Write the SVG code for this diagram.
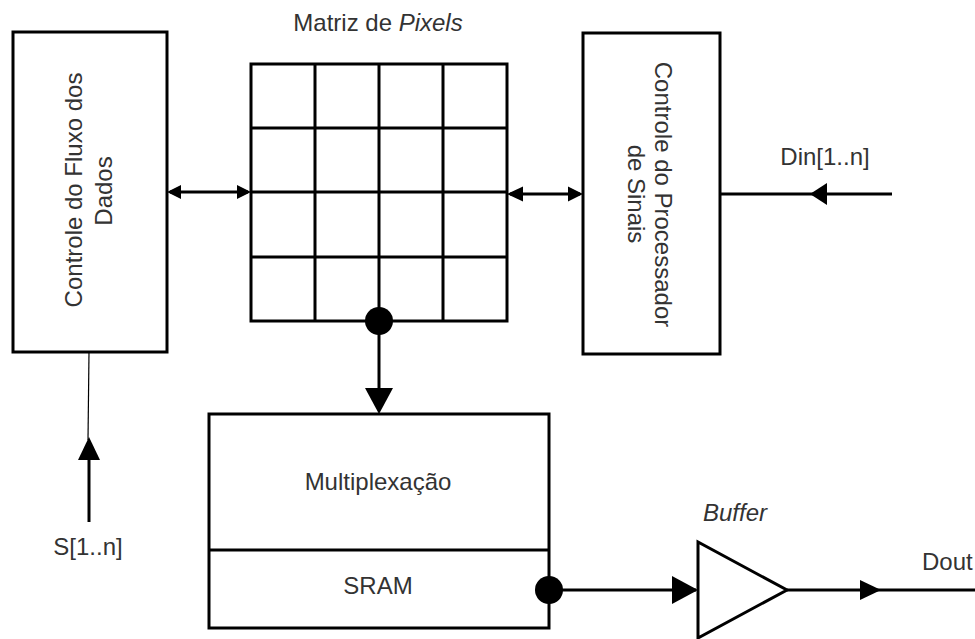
<svg xmlns="http://www.w3.org/2000/svg" width="975" height="639" viewBox="0 0 975 639">
<style>
  .box { fill: #fff; stroke: #000; stroke-width: 3; }
  .ln { fill: none; stroke: #000; stroke-width: 3; }
  .thin { fill: none; stroke: #000; stroke-width: 1.2; }
  .ah { fill: #000; stroke: none; }
  .t { font-family: "Liberation Sans", Arial, sans-serif; font-size: 24px; fill: #333; }
  .c { text-anchor: middle; }
  .i { font-style: italic; }
</style>
<rect width="975" height="639" fill="#fff"/>

<g id="controle-fluxo">
  <rect class="box" x="13" y="32" width="154" height="320"/>
  <text class="t c" transform="translate(82,190) rotate(-90)">Controle do Fluxo dos</text>
  <text class="t c" transform="translate(112,191) rotate(-90)">Dados</text>
</g>

<g id="matriz">
  <text class="t c" x="378" y="31">Matriz de <tspan class="i">Pixels</tspan></text>
  <rect class="box" x="251" y="64" width="256" height="257"/>
  <path class="ln" d="M315,64V321M379,64V321M443,64V321M251,128H507M251,192H507M251,257H507"/>
</g>

<g id="controle-processador">
  <rect class="box" x="583" y="33" width="137" height="321"/>
  <text class="t c" transform="translate(655,194.5) rotate(90)">Controle do Processador</text>
  <text class="t c" transform="translate(628,194) rotate(90)">de Sinais</text>
</g>

<g id="mux-sram">
  <rect class="box" x="209" y="414" width="340" height="214"/>
  <line class="ln" x1="209" y1="550" x2="549" y2="550"/>
  <text class="t c" x="378" y="490">Multiplexação</text>
  <text class="t c" x="378" y="594">SRAM</text>
</g>

<g id="buffer">
  <polygon class="box" points="698,542 698,638 787,590"/>
  <text class="t c i" x="735" y="521">Buffer</text>
</g>

<g id="labels">
  <text class="t c" x="825" y="165">Din[1..n]</text>
  <text class="t c" x="88" y="555">S[1..n]</text>
  <text class="t" x="922" y="570">Dout</text>
</g>

<g id="connectors">
  <!-- fluxo <-> matriz -->
  <line class="ln" x1="170" y1="192" x2="248" y2="192"/>
  <polygon class="ah" points="167,192 181,185 181,199"/>
  <polygon class="ah" points="251,192 237,185 237,199"/>
  <!-- matriz <-> processador -->
  <line class="ln" x1="510" y1="194" x2="580" y2="194"/>
  <polygon class="ah" points="507,194 523,186.5 523,201.5"/>
  <polygon class="ah" points="583,194 568,186.5 568,201.5"/>
  <!-- Din -->
  <line class="ln" x1="720" y1="194" x2="892" y2="194"/>
  <polygon class="ah" points="810,194 827,183 827,205"/>
  <!-- S -->
  <line class="thin" x1="89" y1="352" x2="88" y2="440"/>
  <line class="ln" x1="89" y1="458" x2="89" y2="522"/>
  <polygon class="ah" points="89,437 78,460 100,460"/>
  <!-- matriz -> mux -->
  <circle class="ah" cx="379" cy="321" r="14"/>
  <line class="ln" x1="379" y1="321" x2="379" y2="390"/>
  <polygon class="ah" points="379,414 365,388 393,388"/>
  <!-- sram -> buffer -->
  <circle class="ah" cx="549" cy="590" r="14"/>
  <line class="ln" x1="549" y1="590" x2="696" y2="590"/>
  <polygon class="ah" points="698,590 672,576 672,604"/>
  <!-- buffer -> dout -->
  <line class="ln" x1="787" y1="590" x2="975" y2="590"/>
  <polygon class="ah" points="881,590 860,580 860,600"/>
</g>
</svg>
